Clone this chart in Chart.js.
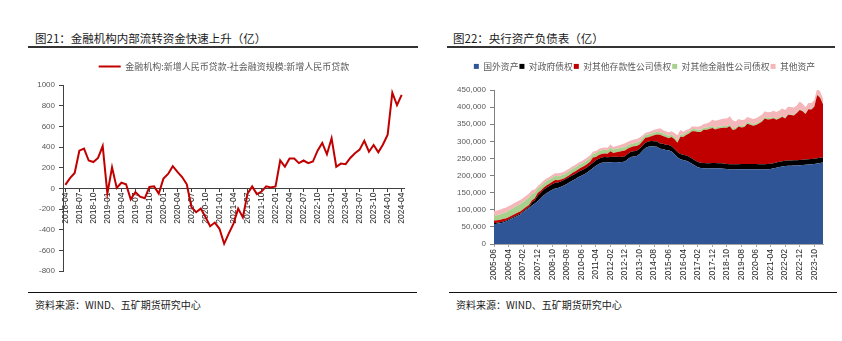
<!DOCTYPE html>
<html>
<head>
<meta charset="utf-8">
<script src="https://cdn.jsdelivr.net/npm/chart.js@4.4.1/dist/chart.umd.min.js"></script>
<style>
  html, body { margin: 0; padding: 0; background: #fff; }
  body { width: 842px; height: 341px; position: relative; overflow: hidden; font-family: "Noto Sans CJK SC", sans-serif; }
  .title { position: absolute; top: 30px; font-size: 11.5px; line-height: 16px; color: #1a1a1a; white-space: nowrap; }
  .src { position: absolute; top: 297px; font-size: 10px; line-height: 16px; color: #1a1a1a; white-space: nowrap; }
  .rule { position: absolute; background: #333; }
  canvas { position: absolute; }
</style>
</head>
<body>

<div class="title" style="left:35px">图21：金融机构内部流转资金快速上升（亿）</div>
<div class="rule" style="left:28px; width:390px; top:46px; height:2px"></div>
<canvas id="chartLoan" width="420" height="225" style="left:0; top:55px"></canvas>
<div class="rule" style="left:28px; width:389px; top:292px; height:1px; background:#111"></div>
<div class="src" style="left:35px">资料来源：WIND、五矿期货研究中心</div>

<div class="title" style="left:453px">图22：央行资产负债表（亿）</div>
<div class="rule" style="left:447px; width:388px; top:46px; height:2px"></div>
<canvas id="chartPboc" width="422" height="235" style="left:420px; top:55px"></canvas>
<div class="rule" style="left:449px; width:388px; top:292px; height:1px; background:#111"></div>
<div class="src" style="left:456px">资料来源：WIND、五矿期货研究中心</div>

<script>
/* ------------------------------------------------ */
// 图21: 金融机构新增人民币贷款 - 社融新增人民币贷款, monthly (亿)

let loanStart = [2018, 4];
let loanEnd = [2024, 4];
let loanLabel = '金融机构:新增人民币贷款-社会融资规模:新增人民币贷款';
let loanGap = [
  35, 100, 150, 365, 385, 270, 255, 295, 410,
  -50, 205, 5, 55, 40, -105, -35, -80, -95, 15, 20, -50,
  95, 140, 215, 160, 110, 40, -180, -230, -195, -275, -365, -330,
  -390, -535, -435, -340, -195, -280, -50, 20, -55, -30, 20, 10,
  20, 270, 210, 290, 290, 245, 270, 245, 260, 365, 440, 330,
  485, 210, 240, 235, 295, 340, 375, 460, 355, 420, 350, 425,
  520, 925, 805, 905,
];

/* ------------------------------------------------ */
// 图22: 央行资产负债表, every second month (亿)

let pbocStart = [2005, 6];
let pbocEnd = [2024, 4];
let pbocNames = ['国外资产', '对政府债权', '对其他存款性公司债权', '对其他金融性公司债权', '其他资产'];

let foreignAssets = [
  57600, 59300, 60800, 62100,
  65000, 69000, 73500, 77500, 81500, 85800,
  92500, 99500, 105500, 112000, 118500, 124800,
  133000, 142000, 148500, 153500, 158500, 162500,
  164000, 167000, 171000, 175500, 180500, 185300,
  190000, 195500, 199500, 203500, 209000, 215400,
  222000, 229000, 234000, 237500, 238500, 237900,
  238800, 239800, 239500, 239000, 239500, 241400,
  248500, 254500, 256000, 257500, 263000, 272200,
  280500, 284500, 285500, 285200, 284000, 278600,
  277500, 275000, 274000, 270000, 262000, 253800,
  248000, 245500, 243000, 239500, 234500, 229600,
  224000, 222000, 221200, 220700, 220800, 221200,
  221300, 221000, 220500, 219800, 218800, 217600,
  217700, 217900, 218100, 218300, 218500, 218600,
  218400, 218300, 218200, 218000, 218000, 218000,
  218300, 219500, 221000, 223000, 224800, 226800,
  227800, 228500, 229000, 229200, 229600, 230300,
  230800, 231500, 232200, 233000, 234000, 235500,
  236800, 237800,
];

let govClaims = [
  2900, 2900, 2900, 2900,
  2900, 2900, 2900, 2900, 2900, 2900,
  2900, 2900, 2900, 9000, 9000, 16300,
  16300, 16300, 16200, 16200, 16200, 16200,
  16000, 15800, 15700, 15700, 15700, 15700,
  15600, 15500, 15500, 15400, 15400, 15400,
  15400, 15400, 15400, 15400, 15400, 15400,
  15400, 15300, 15300, 15300, 15300, 15300,
  15300, 15300, 15300, 15300, 15300, 15300,
  15300, 15300, 15300, 15300, 15300, 15300,
  15300, 15300, 15300, 15300, 15300, 15300,
  15300, 15300, 15300, 15300, 15300, 15300,
  15300, 15300, 15300, 15300, 15300, 15300,
  15250, 15250, 15250, 15250, 15250, 15250,
  15250, 15250, 15250, 15250, 15250, 15250,
  15250, 15250, 15250, 15250, 15250, 15250,
  15240, 15240, 15240, 15240, 15240, 15240,
  15240, 15240, 15240, 15240, 15240, 15240,
  15240, 15240, 15240, 15240, 15240, 15240,
  15240, 15240,
];

let odcClaims = [
  7200, 6900, 6700, 7800,
  6800, 6600, 6500, 6600, 6700, 6500,
  5800, 5600, 5500, 6000, 6500, 7900,
  6500, 6200, 6000, 6500, 7200, 8400,
  6200, 5500, 5000, 5200, 5600, 7200,
  7000, 7600, 8200, 8800, 9200, 9500,
  15000, 10000, 10500, 10000, 10500, 10200,
  17000, 11000, 13500, 15000, 17000, 16700,
  15000, 13000, 14000, 13500, 12500, 13100,
  14500, 12000, 14000, 17000, 20500, 25000,
  23000, 22000, 20000, 27000, 28500, 26600,
  50000, 52000, 60000, 68000, 80000, 84700,
  88000, 90000, 97000, 98000, 100000, 102200,
  98000, 101000, 103000, 105000, 106000, 111500,
  100000, 102000, 110000, 107000, 108000, 117700,
  115000, 112000, 114000, 119000, 124000, 133400,
  130000, 130000, 131000, 125000, 127000, 129500,
  124000, 134000, 133000, 131000, 138000, 146000,
  142000, 133000, 146000, 145000, 152000, 185000,
  175000, 155000,
];

let ofcClaims = [
  14500, 15000, 15500, 16500,
  17500, 18500, 19500, 20500, 21000, 21900,
  21500, 21000, 21000, 20000, 16000, 13000,
  12800, 12600, 12400, 12200, 12000, 11900,
  11800, 11700, 11600, 11600, 11500, 11500,
  11500, 11400, 11400, 11400, 11300, 11300,
  11200, 11100, 11000, 10900, 10800, 10600,
  10500, 10400, 10300, 10200, 10100, 10000,
  9800, 9600, 9400, 9200, 9000, 8900,
  8700, 8500, 8300, 8100, 8000, 7800,
  7600, 7400, 7200, 7000, 6800, 6700,
  6600, 6500, 6500, 6400, 6400, 6300,
  6200, 6200, 6100, 6100, 6000, 6000,
  5500, 5200, 5000, 4800, 4700, 4600,
  4600, 4600, 4600, 4600, 4600, 4600,
  4600, 4600, 4500, 4500, 4500, 4500,
  4400, 4300, 4000, 3500, 3000, 2300,
  2200, 2200, 2100, 2100, 2100, 2100,
  2000, 2000, 1900, 1900, 1900, 1900,
  1800, 1800,
];

let otherAssets = [
  13500, 14000, 14500, 14500,
  13800, 13000, 12600, 12000, 11900, 11400,
  12000, 12000, 13000, 10000, 9000, 7100,
  8000, 8000, 8000, 7500, 7500, 8000,
  8500, 8500, 8000, 8000, 7800, 7800,
  7800, 7500, 7500, 7500, 7500, 7600,
  7000, 6500, 6500, 6500, 6500, 6800,
  9000, 7000, 8000, 9000, 9500, 11000,
  10000, 10000, 10500, 11000, 11500, 7700,
  6000, 6500, 7000, 8000, 8500, 11500,
  10000, 10000, 10000, 10000, 12000, 15300,
  13000, 9000, 8000, 7000, 7000, 7800,
  9000, 11000, 11000, 12000, 14000, 18200,
  20000, 20000, 21000, 22000, 22000, 24000,
  24000, 18000, 17000, 17000, 17000, 15000,
  15000, 15000, 15500, 16000, 16000, 16500,
  17000, 17000, 18000, 19000, 20000, 21800,
  22000, 21000, 21000, 21000, 20000, 23000,
  20000, 18000, 17000, 17000, 17000, 17000,
  17000, 15000,
];

let pbocColors = ['#2F5597', '#000000', '#C00000', '#A9D18E', '#F4B6B8'];

/* ------------------------------------------------ */

function monthLabels(start, end, step) {
  let labels = [];
  let y = start[0];
  let m = start[1];
  while (y < end[0] || (y == end[0] && m <= end[1])) {
    labels.push(y + '-' + String(m).padStart(2, '0'));
    m += step;
    while (m > 12) { m -= 12; y++; }
  }
  return labels;
}

// legend gets a fixed height and a sideways nudge, so the plot box lands where the original has it
function legendBox(height, dx) {
  return {
    id: 'legendBox',
    beforeInit(chart) {
      let fit = chart.legend.fit;
      chart.legend.fit = function () {
        fit.call(this);
        this.height = height;
      };
    },
    afterLayout(chart) {
      chart.legend.left += dx;
      chart.legend.right += dx;
    },
  };
}

Chart.defaults.font.family = '"Liberation Sans", Arial, sans-serif';
Chart.defaults.animation = false;

/* ------------------------------------------------ */

function drawLoanChart() {
  let labels = monthLabels(loanStart, loanEnd, 1);
  let ctx = document.getElementById('chartLoan').getContext('2d');

  new Chart(ctx, {
    type: 'line',
    data: {
      labels: labels,
      datasets: [{
        label: loanLabel,
        data: loanGap,
        borderColor: '#C00000',
        backgroundColor: '#C00000',
        borderWidth: 2,
        pointRadius: 0,
        tension: 0,
      }],
    },
    options: {
      responsive: false,
      layout: { padding: { left: 0, right: 16, top: 0, bottom: 5 } },
      plugins: {
        legend: {
          position: 'top',
          labels: {
            usePointStyle: true,
            pointStyle: 'line',
            pointStyleWidth: 22,
            padding: 7,
            color: '#595959',
            font: { family: '"Noto Sans CJK SC", sans-serif', size: 9 },
          },
        },
        tooltip: { enabled: false },
      },
      scales: {
        x: {
          type: 'category',
          position: { y: 0 },
          offset: true,
          border: { color: '#404040', width: 1 },
          grid: { drawOnChartArea: false, color: '#404040', tickLength: 3 },
          ticks: {
            autoSkip: false,
            minRotation: 90,
            maxRotation: 90,
            padding: 1,
            color: '#262626',
            font: { size: 8.5 },
            callback: function (val, index) {
              return index % 3 == 0 ? this.getLabelForValue(val) : null;
            },
          },
        },
        y: {
          min: -800,
          max: 1000,
          afterFit: (scale) => { scale.width = 63; },
          border: { color: '#404040', width: 1 },
          grid: { drawOnChartArea: false, color: '#404040', tickLength: 4 },
          ticks: {
            stepSize: 200,
            padding: 4,
            color: '#595959',
            font: { size: 8 },
            callback: (v) => String(v),
          },
        },
      },
    },
    plugins: [legendBox(30, 22)],
  });
}

/* ------------------------------------------------ */

function drawPbocChart() {
  let labels = monthLabels(pbocStart, pbocEnd, 2);
  let series = [foreignAssets, govClaims, odcClaims, ofcClaims, otherAssets];
  let ctx = document.getElementById('chartPboc').getContext('2d');

  let datasets = series.map((values, index) => {
    return {
      label: pbocNames[index],
      data: values,
      fill: index == 0 ? 'origin' : '-1',
      backgroundColor: pbocColors[index],
      borderColor: 'rgba(0,0,0,0)',
      borderWidth: 0,
      pointRadius: 0,
      tension: 0,
    };
  });

  new Chart(ctx, {
    type: 'line',
    data: { labels: labels, datasets: datasets },
    options: {
      responsive: false,
      layout: { padding: { left: 0, right: 19, top: 6, bottom: 2 } },
      plugins: {
        legend: {
          position: 'top',
          labels: {
            boxWidth: 5,
            boxHeight: 5,
            padding: 1,
            color: '#595959',
            font: { family: '"Noto Sans CJK SC", sans-serif', size: 8.8 },
          },
        },
        tooltip: { enabled: false },
        filler: { propagate: false },
      },
      scales: {
        x: {
          type: 'category',
          offset: false,
          afterFit: (scale) => { scale.height = 44; },
          border: { color: '#a6a6a6', width: 1 },
          grid: { drawOnChartArea: false, color: '#a6a6a6', tickLength: 3 },
          ticks: {
            autoSkip: false,
            minRotation: 90,
            maxRotation: 90,
            padding: 2,
            color: '#262626',
            font: { size: 8.5 },
            callback: function (val, index) {
              return index % 5 == 0 ? this.getLabelForValue(val) : null;
            },
          },
        },
        y: {
          stacked: true,
          min: 0,
          max: 450000,
          afterFit: (scale) => { scale.width = 74; },
          border: { color: '#7f7f7f', width: 1 },
          grid: { drawOnChartArea: false, color: '#7f7f7f', tickLength: 4 },
          ticks: {
            stepSize: 50000,
            padding: 4,
            color: '#595959',
            font: { size: 8 },
            callback: (v) => v.toLocaleString('en-US'),
          },
        },
      },
    },
    plugins: [legendBox(29, 23)],
  });
}

/* ------------------------------------------------ */

drawLoanChart();
drawPbocChart();
</script>
</body>
</html>
